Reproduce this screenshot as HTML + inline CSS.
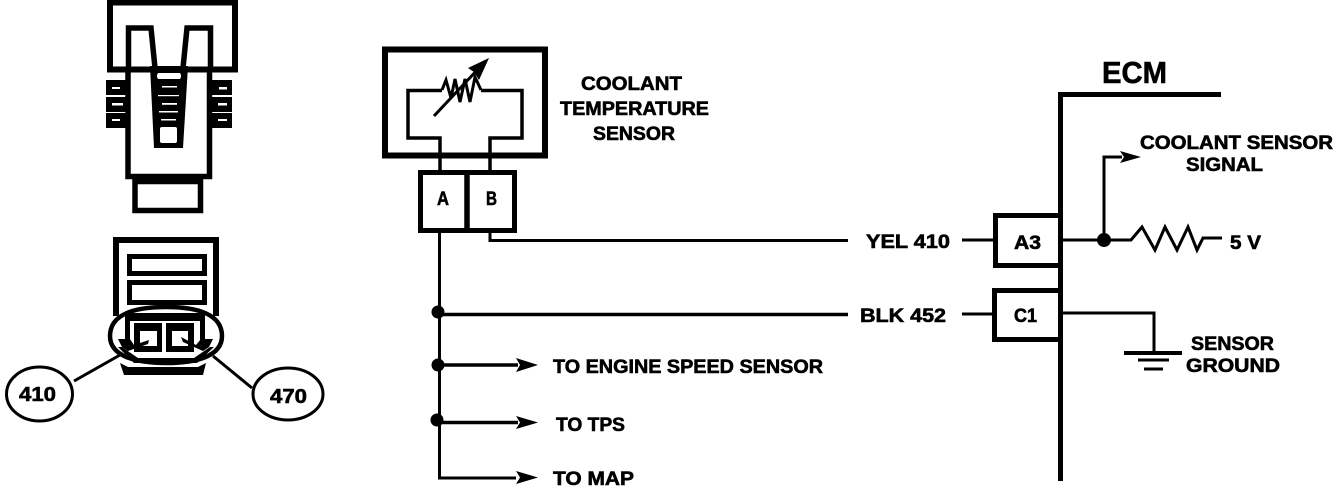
<!DOCTYPE html>
<html><head><meta charset="utf-8"><style>
html,body{margin:0;padding:0;background:#fff;width:1344px;height:488px;overflow:hidden}
svg{display:block}
text{font-family:"Liberation Sans",sans-serif;font-weight:bold;fill:#000;stroke:#000;stroke-width:.6}
.l{fill:none;stroke:#000;stroke-linejoin:miter}
</style></head><body>
<svg width="1344" height="488" viewBox="0 0 1344 488" xmlns="http://www.w3.org/2000/svg">
<!-- top connector -->
<g class="l">
<path d="M110,70 L110,2.500 H235 V70" stroke-width="6"/>
<path d="M107,69.500 H238" stroke-width="6"/>
<path d="M128.500,72 V28 H151 L155,68" stroke-width="5.500"/>
<path d="M210.500,72 V28 H187 L183,68" stroke-width="5.500"/>
<path d="M128,70 V176.500 H209.500 V70" stroke-width="5.500"/>
<rect x="135" y="181.500" width="65.500" height="29" stroke-width="5.500"/>
</g>
<path d="M150,66 H188 L183,148 H154 Z" fill="#000"/>
<g fill="#fff">
<path d="M158,73 H180 L181,75 V77 L180,79 H158 L157,77 V75Z"/>
<rect x="160" y="127" width="17" height="16" rx="2"/>
<rect x="162" y="86" width="15" height="1.500"/>
<rect x="158" y="95" width="21" height="1.200"/>
<rect x="162" y="103" width="15" height="1.800"/>
<rect x="159" y="111" width="19" height="1.500"/>
<rect x="161" y="119" width="15" height="1.500"/>
</g>
<g fill="#000">
<rect x="106" y="80" width="20" height="15"/><rect x="106" y="97" width="20" height="15"/><rect x="106" y="113" width="20" height="15"/>
<rect x="212" y="80" width="20" height="15"/><rect x="212" y="97" width="20" height="15"/><rect x="212" y="113" width="20" height="15"/>
</g>
<g fill="#fff">
<rect x="112" y="87" width="8" height="2"/><rect x="112" y="103" width="11" height="2.500"/><rect x="112" y="119" width="8" height="2"/>
<rect x="219" y="87" width="8" height="2.500"/><rect x="218" y="103" width="9" height="2.500"/><rect x="218" y="119" width="9" height="2"/>
</g>

<!-- lower connector -->
<g class="l">
<path d="M116,316 V240 H216 V316" stroke-width="6"/>
<rect x="129.500" y="256.500" width="75" height="17" stroke-width="5"/>
<rect x="129.500" y="282.500" width="75" height="20" stroke-width="5"/>
<path d="M110,336 C110,314 135,307 166,307 C197,307 222,314 222,336 C222,356 197,363 166,363 C135,363 110,356 110,336Z" stroke-width="4.500"/>
</g>
<g fill="#000">
<rect x="125" y="313" width="80" height="8"/>
<rect x="125" y="313" width="5" height="27"/>
<rect x="200" y="313" width="5" height="27"/>
<path fill-rule="evenodd" d="M134,323 H162 V352 H134Z M140,331 V346 H157 V331Z"/>
<path fill-rule="evenodd" d="M166,323 H194 V352 H166Z M172,331 V346 H188 V331Z"/>
<!-- arrows -->
<path d="M118,339 L130,339 L134,345 L149,340 L148,344 L128,351 L122,347Z"/>
<path d="M213,339 L201,339 L196,345 L181,337 L183,342 L203,351 L209,347Z"/>
<!-- band -->
<path d="M118,347 L122,347 L138,358 H194 L210,347 L214,347 L197,363 H134Z"/>
<!-- bottom -->
<path d="M120,363 L128,367 H198 L206,363 L203,375 H124Z"/>
</g>
<g class="l" stroke-width="3">
<ellipse cx="39.500" cy="394" rx="33" ry="27"/>
<ellipse cx="288" cy="394" rx="35" ry="26"/>
<path d="M74,381 L120,355 M252,388 L213,356"/>
</g>
<text x="19" y="401" font-size="20" textLength="37" lengthAdjust="spacingAndGlyphs">410</text>
<text x="270" y="403" font-size="20" textLength="37" lengthAdjust="spacingAndGlyphs">470</text>

<!-- sensor -->
<g class="l">
<rect x="385" y="49.500" width="160" height="106" stroke-width="6"/>
<path d="M442,90.500 H408 V138 H440 V172" stroke-width="3.500"/>
<path d="M481,90.500 H522 V138 H490 V172" stroke-width="3.500"/>
<path d="M442,90 L446,80 L451,98 L455,79 L460,102 L465,79 L470,102 L475,77 L481,90" stroke-width="3"/>
<path d="M434,116 L480,67" stroke-width="3"/>
<rect x="420.500" y="172.500" width="94" height="58" stroke-width="5"/>
<path d="M467,172 V232" stroke-width="5.500"/>
<path d="M439.500,233 V478 H516" stroke-width="3"/>
<path d="M490,233 V240.500 H848" stroke-width="3"/>
<path d="M438,314.500 H848" stroke-width="3.500"/>
<path d="M438,365 H518" stroke-width="3.500"/>
<path d="M437,422.500 H518" stroke-width="3.500"/>
</g>
<path d="M489,58 L468,68 L474,72 L479,80 Z" fill="#000"/>
<circle cx="438" cy="312" r="6.500"/><circle cx="438" cy="365" r="6.500"/><circle cx="437" cy="420" r="6.500"/>
<path d="M538,365 L516,358 L520,365 L516,372Z M538,422.500 L516,416 L520,422.500 L516,429Z M538,477.500 L516,471 L520,477.500 L516,484Z"/>
<text x="581" y="90" font-size="19" textLength="101" lengthAdjust="spacingAndGlyphs">COOLANT</text>
<text x="560" y="115" font-size="19" textLength="149" lengthAdjust="spacingAndGlyphs">TEMPERATURE</text>
<text x="593" y="140" font-size="19" textLength="82" lengthAdjust="spacingAndGlyphs">SENSOR</text>
<text x="437" y="205" font-size="19" textLength="12" lengthAdjust="spacingAndGlyphs">A</text>
<text x="486" y="205" font-size="19" textLength="11" lengthAdjust="spacingAndGlyphs">B</text>
<text x="553" y="373" font-size="19" textLength="270" lengthAdjust="spacingAndGlyphs">TO ENGINE SPEED SENSOR</text>
<text x="556" y="431" font-size="19" textLength="69" lengthAdjust="spacingAndGlyphs">TO TPS</text>
<text x="553" y="485" font-size="19" textLength="81" lengthAdjust="spacingAndGlyphs">TO MAP</text>
<text x="866" y="248" font-size="19" textLength="84" lengthAdjust="spacingAndGlyphs">YEL 410</text>
<text x="860" y="322" font-size="19" textLength="86" lengthAdjust="spacingAndGlyphs">BLK 452</text>

<!-- ECM -->
<g class="l">
<path d="M1221,94.500 H1060.500 V481" stroke-width="5"/>
<rect x="995.500" y="215.500" width="65" height="50" stroke-width="5"/>
<rect x="994.500" y="290.500" width="66" height="49" stroke-width="5"/>
<path d="M962,240 H993 M962,314 H993" stroke-width="3"/>
<path d="M1062,240 H1131 L1142,227 L1155,250 L1165,227 L1177,250 L1188,227 L1197,250 L1203,238 H1222" stroke-width="3"/>
<path d="M1104,240 V157 H1122" stroke-width="3"/>
<path d="M1062,313 H1154 V353" stroke-width="3"/>
<path d="M1124,353 H1182" stroke-width="4"/>
<path d="M1138,360 H1169" stroke-width="3"/>
<path d="M1144,369 H1163" stroke-width="3"/>
</g>
<circle cx="1104" cy="240" r="7"/>
<path d="M1141,157 L1120,151 L1124,157 L1120,163Z"/>
<text x="1102" y="83" font-size="31" textLength="65" lengthAdjust="spacingAndGlyphs">ECM</text>
<text x="1140" y="149" font-size="19" textLength="193" lengthAdjust="spacingAndGlyphs">COOLANT SENSOR</text>
<text x="1186" y="171" font-size="19" textLength="77" lengthAdjust="spacingAndGlyphs">SIGNAL</text>
<text x="1014" y="249" font-size="19" textLength="27" lengthAdjust="spacingAndGlyphs">A3</text>
<text x="1230" y="249" font-size="19" textLength="31" lengthAdjust="spacingAndGlyphs">5 V</text>
<text x="1014" y="322" font-size="19" textLength="23" lengthAdjust="spacingAndGlyphs">C1</text>
<text x="1191" y="350" font-size="19" textLength="83" lengthAdjust="spacingAndGlyphs">SENSOR</text>
<text x="1186" y="372" font-size="19" textLength="94" lengthAdjust="spacingAndGlyphs">GROUND</text>
</svg>
</body></html>
